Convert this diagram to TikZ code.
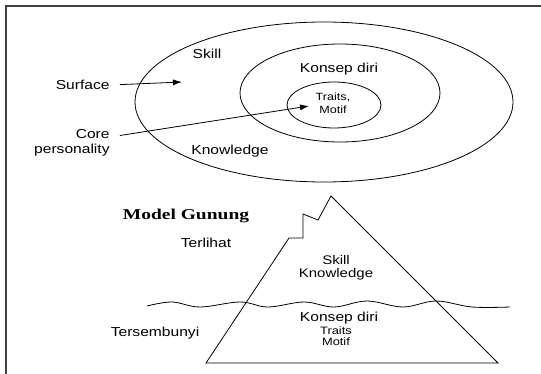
\documentclass[tikz,border=0pt]{standalone}
\usepackage{fontspec}
\setmainfont{Liberation Sans}[FakeStretch=1.2]
\newfontfamily\titlefont{Liberation Serif}[FakeStretch=1.3]
\usetikzlibrary{arrows.meta}

\tikzset{
  lbl/.style={inner sep=1pt, align=center, font=\fontsize{13}{15}\selectfont},
  arr/.style={-{Latex[length=9pt,width=6pt]}, line width=0.8pt},
}

\begin{document}
\begin{tikzpicture}[x=1pt, y=-1pt, line width=0.8pt]
        \useasboundingbox (0,0) rectangle (541,374);

        % frame
        \draw[line width=1.3pt, black!75] (6,374) -- (6,6) -- (541,6);

        % lingkaran
        \draw (324,102) ellipse [x radius=189pt, y radius=80pt];
        \draw (340,93) ellipse [x radius=100pt, y radius=49pt];
        \draw (334,105) ellipse [x radius=47pt, y radius=23pt];

        \node[lbl] (skillup) at (207,54) {Skill};
        \node[lbl] (konsepup) at (339,69) {Konsep diri};
        \node[lbl, font=\fontsize{10.5}{12.5}\selectfont] (traitsup) at (333,103) {Traits,\\Motif};
        \node[lbl] (knowup) at (230,151) {Knowledge};

        % label kiri
        \node[lbl, anchor=east] (surface) at (111,85) {Surface};
        \node[lbl, anchor=east, align=right] (core) at (111,143) {Core\\personality};
        \coordinate (surfacetip) at (182,82);
        \coordinate (coretip) at (309,106);
        \draw[arr, shorten <=9pt] (surface.east) -- (surfacetip);
        \draw[arr, shorten <=9pt] (core) -- (coretip);

        % Model Gunung
        \node[font=\titlefont\bfseries\fontsize{15}{16}\selectfont] (modelgunung) at (186,216) {Model Gunung};
        \node[lbl] (terlihat) at (206,243) {Terlihat};
        \node[lbl] (tersembunyi) at (155,333) {Tersembunyi};

        % gunung
        \draw[line join=miter] (206,363) -- (289,238) -- (303,238) -- (303,214) -- (318,220)
              -- (331,196) -- (498,363) -- cycle;

        % permukaan air
        \draw plot[smooth, tension=0.6] coordinates {(147,306) (172,302) (200,307) (240,302)
              (268,307) (304,302) (334,307) (367,301) (403,307) (436,301) (472,307) (510,307)};

        \node[lbl, font=\fontsize{12.5}{12.5}\selectfont] (skilllow) at (336,268) {Skill\\Knowledge};
        \node[lbl, font=\fontsize{13}{12}\selectfont] (konseplow) at (339,318) {Konsep diri};
        \node[lbl, font=\fontsize{10.7}{11}\selectfont] (traitslow) at (336,336) {Traits\\Motif};
    \end{tikzpicture}
\end{document}
